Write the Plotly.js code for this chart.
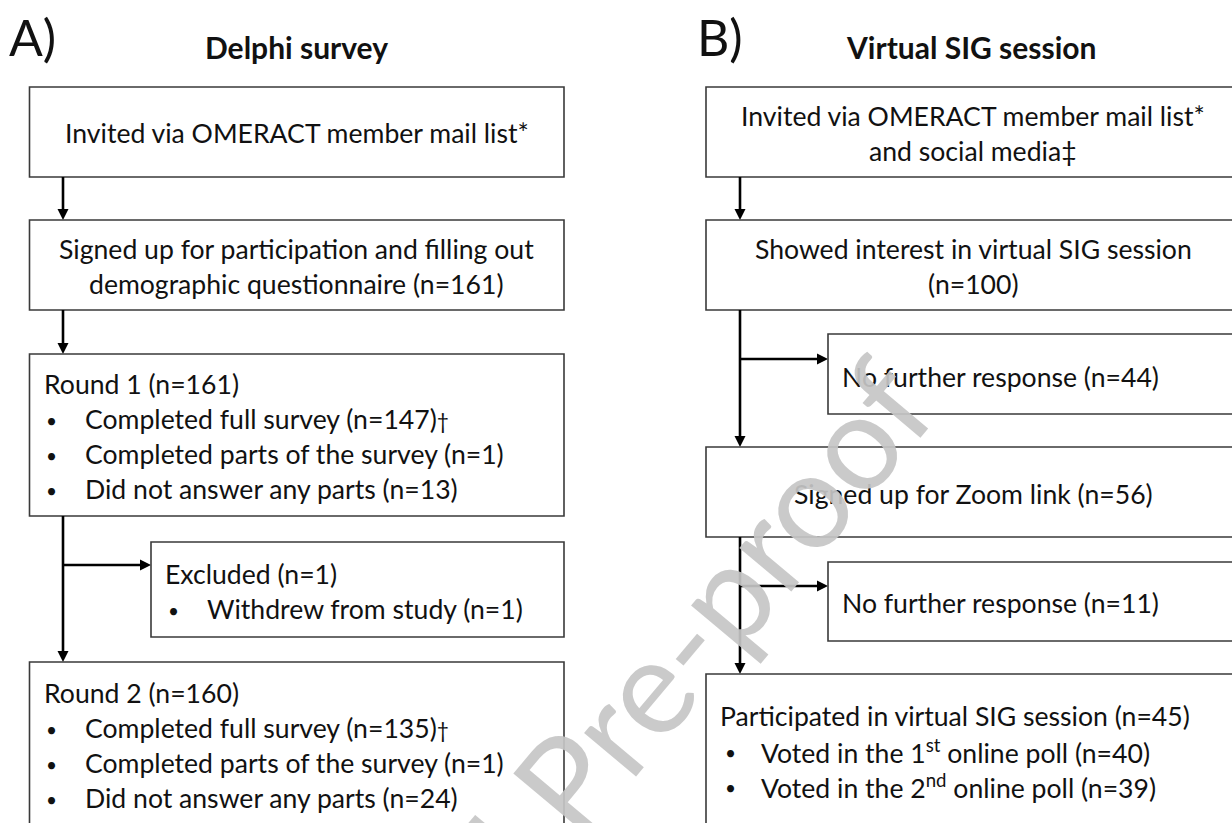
<!DOCTYPE html>
<html><head><meta charset="utf-8">
<script src="https://cdn.plot.ly/plotly-3.0.1.min.js"></script>
<style>html,body{margin:0;padding:0;background:#fff}</style>
</head><body><div id="chart" style="width:1232px;height:823px"></div>
<script>
// ---------------- data ----------------
const panelLetters = ['A)', 'B)'];
const panelTitles = ['Delphi survey', 'Virtual SIG session'];

const delphiInviteText = ['Invited via OMERACT member mail list*'];
const delphiSignupText = ['Signed up for participation and filling out', 'demographic questionnaire'];
const delphiSignupN = 161;
const roundLabels = ['Round 1', 'Round 2'];
const roundN = [161, 160];
const roundItems = ['Completed full survey', 'Completed parts of the survey', 'Did not answer any parts'];
const roundItemMarks = ['†', '', ''];
const round1ItemN = [147, 1, 13];
const round2ItemN = [135, 1, 24];
const excludedLabel = 'Excluded';
const excludedN = 1;
const excludedReasons = ['Withdrew from study'];
const excludedReasonN = [1];

const sigInviteText = ['Invited via OMERACT member mail list*', 'and social media‡'];
const sigStageLabels = ['Showed interest in virtual SIG session', 'Signed up for Zoom link', 'Participated in virtual SIG session'];
const sigStageN = [100, 56, 45];
const sigDropLabel = 'No further response';
const sigDropN = [44, 11];
const pollOrdinals = ['1<sup>st</sup>', '2<sup>nd</sup>'];
const pollN = [40, 39];

const watermarkText = 'Journal Pre-proof';

// ---------------- drawing helpers ----------------
const W = 1232, H = 823;
const FONT = 'Lato, "Open Sans", sans-serif';
const FS = 26.6, LH = 35;
const TXT = '#111';
const shapes = [], annotations = [];
const nf = (label, n) => `${label} (n=${n})`;
const mark = m => m ? `<span style="font-size:21px">${m}</span>` : '';

function box(x0, x1, y0, y1) {
  shapes.push({type: 'rect', xref: 'x', yref: 'y', x0, x1, y0, y1,
    line: {color: '#3a3a3a', width: 1.6}, fillcolor: 'rgba(0,0,0,0)'});
}
function seg(x0, y0, x1, y1) {
  shapes.push({type: 'line', xref: 'x', yref: 'y', x0, y0, x1, y1, line: {color: '#000', width: 2.6}});
}
const AL = 11, AHW = 5.5;
function arrowDown(x, y0, y1) {
  seg(x, y0, x, y1 - AL + 1);
  shapes.push({type: 'path', xref: 'x', yref: 'y',
    path: `M ${x - AHW},${y1 - AL} L ${x + AHW},${y1 - AL} L ${x},${y1} Z`,
    fillcolor: '#000', line: {width: 0}});
}
function arrowRight(y, x0, x1) {
  seg(x0, y, x1 - AL + 1, y);
  shapes.push({type: 'path', xref: 'x', yref: 'y',
    path: `M ${x1 - AL},${y - AHW} L ${x1 - AL},${y + AHW} L ${x1},${y} Z`,
    fillcolor: '#000', line: {width: 0}});
}
function txt(t, x, y, anchor, size, extra) {
  annotations.push(Object.assign({text: t, x, y, xref: 'x', yref: 'y', showarrow: false,
    xanchor: anchor || 'center', yanchor: 'middle', borderpad: 0,
    font: {family: FONT, size: size || FS, color: TXT}}, extra || {}));
}
function bullets(items, xb, xt, y0) {
  items.forEach((t, i) => {
    txt('•', xb, y0 + i * LH + 1, 'left', 19);
    txt(t, xt, y0 + i * LH, 'left');
  });
}

// ---------------- panel A ----------------
const ax = 63, aL = 29.5, aR = 564, aC = (aL + aR) / 2;
txt(panelLetters[0], 8, 37, 'left', 50);
txt('<b>' + panelTitles[0] + '</b>', 296, 47, 'center', 30);

box(aL, aR, 87, 177);
txt(delphiInviteText[0], aC, 133);
arrowDown(ax, 177, 220);

box(aL, aR, 220, 310);
txt(delphiSignupText[0], aC, 249);
txt(nf(delphiSignupText[1], delphiSignupN), aC, 284);
arrowDown(ax, 310, 354);

box(aL, aR, 354, 516);
txt(nf(roundLabels[0], roundN[0]), 43, 384, 'left');
bullets(roundItems.map((t, i) => nf(t, round1ItemN[i]) + mark(roundItemMarks[i])), 45, 84, 419);

arrowDown(ax, 516, 662);
arrowRight(565, ax, 151);
box(151, aR, 542, 637);
txt(nf(excludedLabel, excludedN), 164, 574, 'left');
bullets(excludedReasons.map((t, i) => nf(t, excludedReasonN[i])), 167, 206, 609);

box(aL, aR, 662, 900);
txt(nf(roundLabels[1], roundN[1]), 43, 693, 'left');
bullets(roundItems.map((t, i) => nf(t, round2ItemN[i]) + mark(roundItemMarks[i])), 45, 84, 728);

// ---------------- panel B ----------------
const bx = 740, bL = 706, bR = 1240, bC = 973, dL = 828;
txt(panelLetters[1], 696, 37, 'left', 50);
txt('<b>' + panelTitles[1] + '</b>', 971, 47, 'center', 30);

box(bL, bR, 87, 177);
txt(sigInviteText[0], bC, 116);
txt(sigInviteText[1], bC, 151);
arrowDown(bx, 177, 220);

box(bL, bR, 220, 310);
txt(sigStageLabels[0], bC, 249);
txt(`(n=${sigStageN[0]})`, bC, 284);

arrowDown(bx, 310, 447);
arrowRight(359, bx, dL);
box(dL, bR, 334, 414);
txt(nf(sigDropLabel, sigDropN[0]), 841, 377, 'left');

box(bL, bR, 447, 537);
txt(nf(sigStageLabels[1], sigStageN[1]), bC, 494);

arrowDown(bx, 537, 674);
arrowRight(586, bx, dL);
box(dL, bR, 562, 641);
txt(nf(sigDropLabel, sigDropN[1]), 841, 603, 'left');

box(bL, bR, 674, 900);
txt(nf(sigStageLabels[2], sigStageN[2]), 719, 716, 'left');
bullets(pollOrdinals.map((o, i) => nf(`Voted in the ${o} online poll`, pollN[i])), 724, 760, 751);

// ---------------- watermark ----------------
annotations.push({text: watermarkText, x: 572, y: 772, xref: 'x', yref: 'y', showarrow: false,
  xanchor: 'center', yanchor: 'middle', textangle: -50,
  font: {family: FONT, size: 134, color: 'rgba(198,198,198,0.92)'}});

const layout = {
  width: W, height: H, margin: {l: 0, r: 0, t: 0, b: 0},
  paper_bgcolor: '#fff', plot_bgcolor: '#fff', showlegend: false,
  xaxis: {range: [0, W], visible: false, fixedrange: true},
  yaxis: {range: [H, 0], visible: false, fixedrange: true},
  shapes, annotations
};
Plotly.newPlot('chart', [], layout, {staticPlot: true, displayModeBar: false});
</script></body></html>
